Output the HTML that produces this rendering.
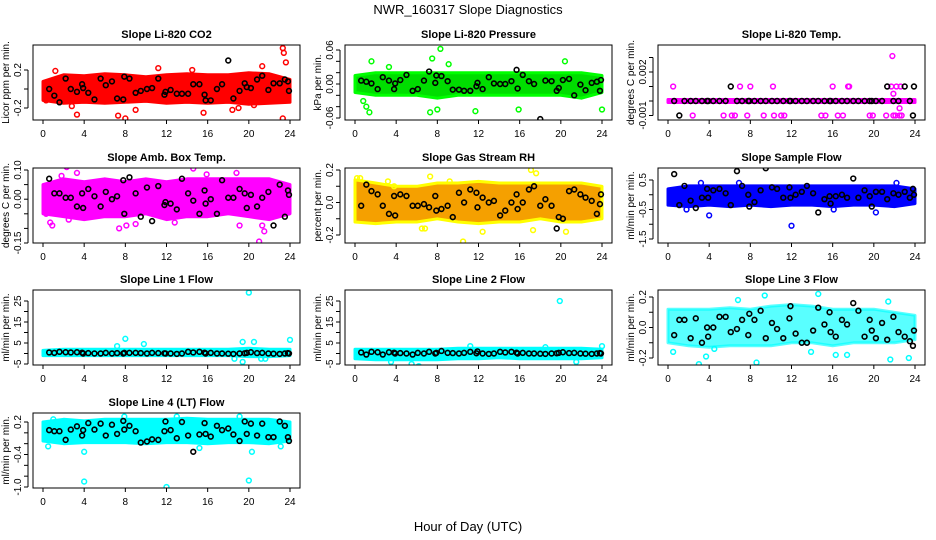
<!DOCTYPE html>
<html><head><meta charset="utf-8">
<style>
body{margin:0;background:#fff;}
svg{display:block;font-family:"Liberation Sans",Arial,sans-serif;}
</style></head>
<body>
<svg id="chart" width="936" height="540" viewBox="0 0 936 540" xmlns="http://www.w3.org/2000/svg">
<rect width="936" height="540" fill="#fff"/>
<text x="468" y="14" text-anchor="middle" font-size="13">NWR_160317  Slope Diagnostics</text>
<text x="468" y="531" text-anchor="middle" font-size="13">Hour of Day (UTC)</text>
</svg>
<script>
// ---- shared data ----
const xTicks = [0,4,8,12,16,20,24];
const bandHours = [0,2,4,6,8,10,12,14,16,18,20,22,24];
const blackHours = [0.6,1.1,1.6,2.2,2.7,3.3,3.8,3.9,4.4,5.0,5.6,6.1,6.7,7.2,7.8,7.9,8.4,9.0,9.5,10.1,10.6,11.2,11.8,11.9,12.4,13.0,13.5,14.1,14.6,15.2,15.7,15.8,16.3,16.9,17.4,18.0,18.5,19.1,19.6,19.8,20.2,20.8,21.3,21.9,22.4,23.0,23.5,23.8,23.9];

// CO2
const co2Black = [0,-0.07,-0.14,0.11,0,-0.03,0.05,0.01,-0.04,-0.11,0.11,0.04,0.08,-0.1,-0.11,0.13,0.11,-0.04,-0.02,0,0.01,0.11,-0.06,-0.03,-0.01,-0.05,-0.05,-0.05,0.05,0.05,-0.06,-0.12,-0.12,0,0.05,0.3,-0.1,-0.02,0.06,0.02,0.01,0.1,0.14,-0.01,0.06,0.06,0.1,0.08,-0.02];
const co2Lo = [-0.12,-0.15,-0.14,-0.15,-0.14,-0.13,-0.15,-0.14,-0.15,-0.14,-0.16,-0.15,-0.14];
const co2Hi = [0.08,0.15,0.14,0.16,0.15,0.13,0.15,0.16,0.15,0.15,0.17,0.16,0.1];
const co2OutH = [1.2,3.3,2.8,7.3,8,9,15.6,18.4,19,21.3,23.3,23.4,23.6,23.3,14.5,11.2,0.3,20.5];
const co2OutV = [0.19,-0.27,-0.18,-0.28,-0.31,-0.22,-0.25,-0.22,-0.2,0.24,0.43,0.38,0.28,-0.31,0.2,0.22,-0.12,-0.17];
const co2Ticks = [-0.2,0,0.2]; const co2Labels = ["-0.2","","0.2"];

// Pressure
const presBlack = [0.006,0.004,0.001,-0.009,0.012,0.006,-0.009,0.001,0.007,0.016,-0.012,-0.009,0.006,0.022,0.002,0.015,0.014,0.005,-0.01,-0.01,-0.012,-0.012,-0.004,0.002,-0.009,0.012,0.001,0,0,0.005,0.025,-0.008,0.016,0.005,0,-0.062,0.006,0.005,-0.012,-0.007,0.007,0.009,-0.02,-0.001,-0.011,0.002,0.004,-0.012,0.007];
const presLo = [-0.015,-0.02,-0.02,-0.02,-0.025,-0.02,-0.02,-0.02,-0.02,-0.02,-0.02,-0.025,-0.015];
const presHi = [0.015,0.02,0.02,0.02,0.02,0.02,0.02,0.02,0.02,0.02,0.02,0.02,0.015];
const presOutH = [0.8,1.1,1.4,1.6,7.3,7.5,8.3,8,11.7,15.9,20.4,24,9.1,3.3];
const presOutV = [-0.03,-0.04,-0.05,0.04,-0.05,0.045,0.062,-0.045,-0.048,-0.045,0.04,-0.045,0.035,0.03];
const presTicks = [-0.06,-0.04,-0.02,0,0.02,0.04,0.06]; const presLabels = ["-0.06","","","0.00","","","0.06"];

// Li-820 Temp
const tempBlack = [0,-0.001,0,0,0,0,0,0,0,0,0,0.001,0,0,0,0,0,0,0,0,0,0,0,0,0,0,0,0,0,0,0,0,0,0,0,0,0,0,0,0,0,0,0.001,0,0,0.001,0,-0.001,0.001];
const tempLo = [-0.0001,-0.0001,-0.0001,-0.0001,-0.0001,-0.0001,-0.0001,-0.0001,-0.0001,-0.0001,-0.0001,-0.0001,-0.0001];
const tempHi = [0.0001,0.0001,0.0001,0.0001,0.0001,0.0001,0.0001,0.0001,0.0001,0.0001,0.0001,0.0001,0.0001];
const tempOutH = [0.5,7,8,10.2,16,17.5,17.6,21.7,22.2,22.6,2.4,5.4,6.2,6.5,7.7,9.3,10.3,11,11.3,14.9,15.3,16.5,17,19.6,19.9,21.2,21.9,22.1,22.5,22.7,21.8,21.9,22.5];
const tempOutV = [0.001,0.001,0.001,0.001,0.001,0.001,0.001,0.001,0.001,0.001,-0.001,-0.001,-0.001,-0.001,-0.001,-0.001,-0.001,-0.001,-0.001,-0.001,-0.001,-0.001,-0.001,-0.001,-0.001,-0.001,-0.001,-0.001,-0.001,-0.001,0.0031,0.0005,-0.0005];
const tempTicks = [-0.001,0,0.001,0.002,0.003]; const tempLabels = ["-0.001","","","0.002",""];

// Amb box temp
const ambBlack = [0.07,0.02,0.02,0.005,0.005,-0.025,0.02,-0.03,0.035,0.01,-0.025,0.025,0.0,0.01,0.065,-0.05,0.075,0.02,-0.06,0.04,-0.075,0.045,-0.02,-0.01,-0.015,-0.035,0.07,0.02,-0.005,-0.05,0.03,-0.015,0.0,-0.05,0.065,0.005,0.005,0.035,0.02,-0.03,0.015,-0.025,0.005,0.025,-0.09,0.05,-0.06,0.03,0.015];
const ambLo = [-0.05,-0.06,-0.07,-0.06,-0.06,-0.05,-0.07,-0.06,-0.06,-0.05,-0.06,-0.07,-0.05];
const ambHi = [0.05,0.07,0.06,0.07,0.06,0.07,0.06,0.07,0.07,0.07,0.07,0.07,0.05];
const ambOutH = [0.3,0.7,0.9,2.3,2.5,3.3,7.4,8.1,9.0,14.6,15.9,18.8,19.1,21.0,21.5,21.3,1.8,12.8];
const ambOutV = [-0.05,-0.08,-0.09,0.11,-0.07,0.09,-0.1,-0.09,-0.085,0.105,0.085,0.09,-0.09,-0.145,-0.11,-0.09,0.08,-0.08];
const ambTicks = [-0.15,-0.1,-0.05,0,0.05,0.1]; const ambLabels = ["-0.15","","","0.00","","0.10"];

// Gas stream RH
const rhBlack = [-0.02,0.11,0.07,0.05,-0.02,-0.07,0.04,-0.08,0.05,0.04,-0.02,-0.02,-0.01,-0.03,0.04,-0.05,-0.04,-0.02,-0.09,0.06,0,0.08,0.06,-0.03,0.03,0,0.01,-0.08,-0.05,0,0.05,-0.04,0,0.08,0.1,-0.02,0.02,-0.02,-0.16,-0.09,-0.1,0.07,0.08,0.05,0.03,0.01,-0.07,-0.01,0.05];
const rhLo = [-0.12,-0.13,-0.12,-0.12,-0.1,-0.12,-0.13,-0.12,-0.12,-0.1,-0.12,-0.12,-0.1];
const rhHi = [0.14,0.12,0.1,0.1,0.12,0.12,0.13,0.12,0.12,0.12,0.12,0.12,0.1];
const rhOutH = [0.2,0.5,3.2,6.5,6.8,7.3,10.5,12.4,17.1,17.3,17.6,20.5,3.8,9.2];
const rhOutV = [0.15,0.15,0.13,-0.16,-0.16,0.16,-0.24,-0.18,0.2,-0.17,0.18,-0.18,0.1,0.13];
const rhTicks = [-0.2,-0.1,0,0.1,0.2]; const rhLabels = ["-0.2","","0.0","","0.2"];

// Sample flow
const sampBlack = [0.7,-0.35,0.3,-0.2,-0.45,-0.1,0.2,-0.1,0.15,0.2,0.05,-0.35,0.8,0.3,0,-0.4,-0.25,0.15,0.9,0.25,0.2,-0.1,0.25,-0.1,0,0.1,0.3,0.05,-0.6,-0.15,-0.05,-0.3,-0.05,0,-0.1,0.55,-0.1,0.15,-0.05,-0.4,0.1,0.1,-0.15,0.05,0,0.1,-0.1,0.2,0];
const sampLo = [-0.35,-0.4,-0.35,-0.4,-0.35,-0.4,-0.35,-0.35,-0.4,-0.35,-0.35,-0.4,-0.3];
const sampHi = [0.2,0.3,0.3,0.3,0.3,0.3,0.3,0.3,0.3,0.3,0.3,0.3,0.2];
const sampOutH = [4.0,12.0,20.0,1.8,3.2,6.9,16.1,20.2,22.2];
const sampOutV = [-0.7,-1.05,-1.8,-0.5,0.4,0.4,-0.5,-0.6,0.4];
const sampTicks = [-1.5,-1,-0.5,0,0.5]; const sampLabels = ["-1.5","","-0.5","","0.5"];

// Line 1 flow
const l1Black = [0.5,0.3,0.8,0.6,0.5,0.6,0.4,0,0.2,0,0,0.3,0,0.2,0,0.3,0.3,0.3,0.2,0,0.3,0.2,0.1,0,0,-0.2,0,0.8,0.5,0.8,0.4,0,0.3,0,0,-0.1,-0.2,0,0.1,0.3,0.6,0.2,0.3,0,-0.1,-0.2,0,0.2,0];
const l1Lo = [-1,-1,-1,-1,-1,-1,-1,-1,-1,-1,-1.5,-1.5,-1];
const l1Hi = [1.5,2,2,2,2,2,2,2,2,2,2.5,2,2];
const l1OutH = [20,8,24,19.4,19.4,20.5,9.8,7.2,18.6,21.2,21.6];
const l1OutV = [29,7,6.5,5.5,-4,5.5,4.5,3.5,-2.5,-2.5,-2.5];
const l1Ticks = [-5,0,5,10,15,20,25]; const l1Labels = ["-5","","5","","15","","25"];

// Line 2 flow
const l2Black = [0.5,-0.5,0.8,0.6,-0.5,0.6,0.4,0,0.2,0,-0.5,0.3,0,0.8,0,0.3,1.2,0.3,0.2,0,0.3,0.8,0.1,1.0,0,-0.2,0,0.8,0.5,0.8,0.4,0,0.3,0,0,-0.1,-0.2,0,0.1,0.3,0.6,0.2,0.3,0,-0.1,-0.2,0,0.2,0];
const l2Lo = [-2.5,-3,-3,-3,-3,-2.5,-2.5,-2,-2.5,-2.5,-2.5,-2.5,-2];
const l2Hi = [2,2,2,2,2,2.5,2.5,2.5,2.5,2.5,2.5,2.5,2];
const l2OutH = [19.9,6.2,5.5,3.5,24,18.5,21.5,11.2];
const l2OutV = [25,-6,-5,-4,3.5,3,-4,3.5];
const l2Ticks = [-5,0,5,10,15,20,25]; const l2Labels = ["-5","","5","","15","","25"];

// Line 3 flow
const l3Black = [-0.05,0.05,0.05,-0.07,0.06,-0.1,0,-0.06,0,0.07,0.07,-0.03,-0.01,0.05,-0.05,0.09,0.05,0.11,-0.07,0.03,-0.01,-0.07,0.06,0.14,-0.04,-0.1,-0.1,-0.02,0.13,0.02,0.1,-0.03,-0.06,0.05,0.02,0.16,0.11,-0.06,0.05,-0.02,-0.07,0.03,-0.08,0.07,-0.03,-0.06,-0.09,-0.12,-0.02];
const l3Lo = [-0.1,-0.12,-0.13,-0.12,-0.12,-0.12,-0.1,-0.1,-0.12,-0.1,-0.1,-0.1,-0.08];
const l3Hi = [0.12,0.12,0.12,0.13,0.12,0.14,0.15,0.14,0.12,0.12,0.12,0.1,0.08];
const l3OutH = [0.5,3.0,3.7,8.6,9.4,6.8,14.6,21.4,21.6,23.4,16.3,17.4,13.9,4.5];
const l3OutV = [-0.16,-0.24,-0.19,-0.23,0.21,0.18,0.22,0.17,-0.21,-0.2,-0.18,-0.18,-0.16,-0.14];
const l3Ticks = [-0.2,-0.1,0,0.1,0.2]; const l3Labels = ["-0.2","","0.0","","0.2"];

// Line 4 flow
const l4Black = [0.05,0.03,0.03,-0.13,0.06,0.12,-0.05,0.05,0.18,0.06,0.17,-0.05,0.15,-0.02,0.22,0.06,0.13,0.03,-0.18,-0.16,-0.12,-0.13,0.03,0.21,0.05,-0.1,0.2,-0.05,-0.35,-0.03,0.18,-0.02,-0.07,0.13,0.05,0.08,-0.03,-0.15,0.21,-0.02,0.17,-0.05,0.17,-0.08,-0.08,0.21,0.13,-0.08,-0.15];
const l4Lo = [-0.15,-0.2,-0.18,-0.18,-0.18,-0.2,-0.18,-0.18,-0.2,-0.18,-0.18,-0.2,-0.15];
const l4Hi = [0.2,0.25,0.22,0.25,0.25,0.25,0.25,0.27,0.25,0.25,0.25,0.25,0.2];
const l4OutH = [4.0,12.0,20.0,4.0,20.3,0.5,1.0,7.9,13.0,19.1,15.2,23.1];
const l4OutV = [-0.9,-1.0,-0.88,-0.35,-0.35,-0.25,0.25,0.3,0.3,0.3,-0.28,-0.25];
const l4Ticks = [-1.0,-0.8,-0.6,-0.4,-0.2,0,0.2]; const l4Labels = ["-1.0","","","-0.4","","","0.2"];

// ---- layout (not data) ----
const panels = [
 {name:'co2',title:'Slope Li-820 CO2',ylab:'Licor ppm per min.',col:0,row:0,color:'#ff0000',band:'#ff0000',op:1,v1:0.2,p1:25,v2:-0.2,p2:63,black:co2Black,lo:co2Lo,hi:co2Hi,oh:co2OutH,ov:co2OutV,ticks:co2Ticks,labels:co2Labels},
 {name:'pressure',title:'Slope Li-820 Pressure',ylab:'kPa per min.',col:1,row:0,color:'#00ff00',band:'#00dd00',op:1,v1:0.06,p1:5,v2:-0.06,p2:73,black:presBlack,lo:presLo,hi:presHi,oh:presOutH,ov:presOutV,ticks:presTicks,labels:presLabels},
 {name:'li820-temp',title:'Slope Li-820 Temp.',ylab:'degrees C per min.',col:2,row:0,color:'#ff00ff',band:'#ff00ff',op:1,v1:0,p1:56,v2:0.002,p2:27,black:tempBlack,lo:tempLo,hi:tempHi,oh:tempOutH,ov:tempOutV,ticks:tempTicks,labels:tempLabels},
 {name:'amb-box-temp',title:'Slope Amb. Box Temp.',ylab:'degrees C per min.',col:0,row:1,color:'#ff00ff',band:'#ff00ff',op:1,v1:0.1,p1:2,v2:-0.15,p2:75,black:ambBlack,lo:ambLo,hi:ambHi,oh:ambOutH,ov:ambOutV,ticks:ambTicks,labels:ambLabels},
 {name:'gas-stream-rh',title:'Slope Gas Stream RH',ylab:'percent per min.',col:1,row:1,color:'#ffff00',band:'#f5a000',op:1,v1:0.2,p1:2,v2:-0.2,p2:67,black:rhBlack,lo:rhLo,hi:rhHi,oh:rhOutH,ov:rhOutV,ticks:rhTicks,labels:rhLabels},
 {name:'sample-flow',title:'Slope Sample Flow',ylab:'ml/min per min.',col:2,row:1,color:'#0000ff',band:'#0000ff',op:1,v1:0.5,p1:12,v2:-1.5,p2:71,black:sampBlack,lo:sampLo,hi:sampHi,oh:sampOutH,ov:sampOutV,ticks:sampTicks,labels:sampLabels},
 {name:'line1-flow',title:'Slope Line 1 Flow',ylab:'ml/min per min.',col:0,row:2,color:'#00ffff',band:'#00ffff',op:1,v1:25,p1:11,v2:-5,p2:74,black:l1Black,lo:l1Lo,hi:l1Hi,oh:l1OutH,ov:l1OutV,ticks:l1Ticks,labels:l1Labels},
 {name:'line2-flow',title:'Slope Line 2 Flow',ylab:'ml/min per min.',col:1,row:2,color:'#00ffff',band:'#00ffff',op:1,v1:25,p1:11,v2:-5,p2:74,black:l2Black,lo:l2Lo,hi:l2Hi,oh:l2OutH,ov:l2OutV,ticks:l2Ticks,labels:l2Labels},
 {name:'line3-flow',title:'Slope Line 3 Flow',ylab:'ml/min per min.',col:2,row:2,color:'#00ffff',band:'#00ffff',op:0.65,v1:0.2,p1:7,v2:-0.2,p2:68,black:l3Black,lo:l3Lo,hi:l3Hi,oh:l3OutH,ov:l3OutV,ticks:l3Ticks,labels:l3Labels},
 {name:'line4-flow',title:'Slope Line 4 (LT) Flow',ylab:'ml/min per min.',col:0,row:3,color:'#00ffff',band:'#00ffff',op:1,v1:0.2,p1:9,v2:-1.0,p2:74,black:l4Black,lo:l4Lo,hi:l4Hi,oh:l4OutH,ov:l4OutV,ticks:l4Ticks,labels:l4Labels}
];
const colLeft = [33,345,658];
const rowTop = [45,168,290,413];
const boxW = 267, boxH = 75;
const NS = 'http://www.w3.org/2000/svg';
const svg = document.getElementById('chart');
function mk(tag, attrs, parent){const e=document.createElementNS(NS,tag);for(const k in attrs)e.setAttribute(k,attrs[k]);(parent||svg).appendChild(e);return e;}

panels.forEach(p=>{
  const L=colLeft[p.col], T=rowTop[p.row];
  const xs = h => L+10+h*(247/24);
  const ys = v => T+p.p1+(v-p.v1)*(p.p2-p.p1)/(p.v2-p.v1);
  const g = mk('g',{});
  
  
  const clip = mk('clipPath',{id:'clip-'+p.name},g);
  mk('rect',{x:L,y:T,width:boxW,height:boxH},clip);
  const plot = mk('g',{'clip-path':'url(#clip-'+p.name+')'},g);
  
  
  let d='';
  bandHours.forEach((h,i)=>{d+=(i?'L':'M')+xs(h).toFixed(1)+','+ys(p.hi[i]).toFixed(1);});
  for(let i=bandHours.length-1;i>=0;i--){d+='L'+xs(bandHours[i]).toFixed(1)+','+ys(p.lo[i]).toFixed(1);}
  const band = mk('path',{d:d+'Z',fill:p.band,'fill-opacity':p.op,stroke:p.color,'stroke-opacity':p.op,'stroke-width':3,'stroke-linejoin':'round'},plot);
  
  
  p.oh.forEach((h,i)=>{
    const c = mk('circle',{cx:xs(h),cy:ys(p.ov[i]),r:2.4,fill:'none',stroke:p.color,'stroke-width':1.5},plot);
    
    
  });
  const n=Math.min(blackHours.length,p.black.length);
  for(let i=0;i<n;i++){
    const c = mk('circle',{cx:xs(blackHours[i]),cy:ys(p.black[i]),r:2.4,fill:'none',stroke:'#000','stroke-width':1.6},plot);
    
    
  }
  const box = mk('rect',{x:L,y:T,width:boxW,height:boxH,fill:'none',stroke:'#000','stroke-width':1},g);
  
  
  const t = mk('text',{x:L+boxW/2,y:T-7,'text-anchor':'middle','font-size':11,'font-weight':'bold'},g);
  t.textContent=p.title;
  
  
  const xa = mk('g',{},g);
  
  
  xTicks.forEach(h=>{
    mk('line',{x1:xs(h),x2:xs(h),y1:T+boxH,y2:T+boxH+4,stroke:'#000'},xa);
    const lt = mk('text',{x:xs(h),y:T+boxH+17,'text-anchor':'middle','font-size':10},xa);
    lt.textContent=h;
    
    
  });
  const ya = mk('g',{},g);
  
  
  const yv = p.ticks.map(ys);
  mk('line',{x1:L-5,x2:L-5,y1:Math.min(...yv),y2:Math.max(...yv),stroke:'#000'},ya);
  p.ticks.forEach((v,i)=>{
    const y=ys(v);
    mk('line',{x1:L-9,x2:L-5,y1:y,y2:y,stroke:'#000'},ya);
    if(p.labels[i]){
      const lt = mk('text',{x:0,y:0,'text-anchor':'middle','font-size':10,transform:'translate('+(L-12)+','+y+') rotate(-90)'},ya);
      lt.textContent=p.labels[i];
      
      
    }
  });
  const yt = mk('text',{x:0,y:0,'text-anchor':'middle','font-size':10,transform:'translate('+(L-24)+','+(T+boxH/2)+') rotate(-90)'},g);
  yt.textContent=p.ylab;
  
  
});
</script>
</body></html>
